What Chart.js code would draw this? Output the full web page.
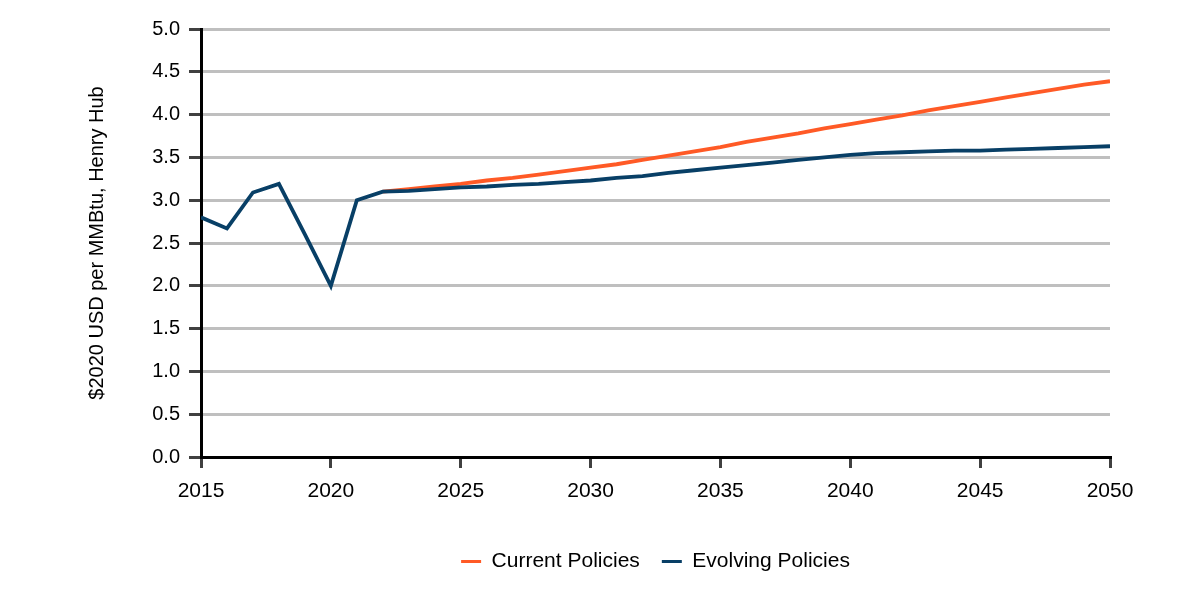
<!DOCTYPE html>
<html>
<head>
<meta charset="utf-8">
<script src="https://cdn.jsdelivr.net/npm/chart.js@4"></script>
<style>
  html, body { margin: 0; padding: 0; background: #fff; }
  #wrap { width: 1200px; height: 600px; }
</style>
</head>
<body>
<div id="wrap"><canvas id="gasChart" width="1200" height="600"></canvas></div>
<script>
const years = [2015, 2016, 2017, 2018, 2019, 2020, 2021, 2022, 2023, 2024, 2025, 2026,
  2027, 2028, 2029, 2030, 2031, 2032, 2033, 2034, 2035, 2036, 2037, 2038, 2039, 2040,
  2041, 2042, 2043, 2044, 2045, 2046, 2047, 2048, 2049, 2050];

// Current Policies starts in 2022
const currentPolicies = [null, null, null, null, null, null, null, 3.10, 3.13, 3.16, 3.19, 3.23,
  3.26, 3.30, 3.34, 3.38, 3.42, 3.47, 3.52, 3.57, 3.62, 3.68, 3.73, 3.78, 3.84, 3.89,
  3.94, 3.99, 4.05, 4.10, 4.15, 4.20, 4.25, 4.30, 4.35, 4.39];

const evolvingPolicies = [2.80, 2.67, 3.09, 3.19, 2.60, 2.00, 3.00, 3.10, 3.11, 3.13, 3.15, 3.16,
  3.18, 3.19, 3.21, 3.23, 3.26, 3.28, 3.32, 3.35, 3.38, 3.41, 3.44, 3.47, 3.50, 3.53,
  3.55, 3.56, 3.57, 3.58, 3.58, 3.59, 3.60, 3.61, 3.62, 3.63];

const seriesNames = ['Current Policies', 'Evolving Policies'];
const yTitle = '$2020 USD per MMBtu, Henry Hub';

const toPoints = vals => years.map((yr, i) => ({ x: yr, y: vals[i] }));

const fontFamily = "'Liberation Sans', Arial, sans-serif";

document.addEventListener("DOMContentLoaded", () => {
  const ctx = document.getElementById('gasChart').getContext('2d');

  new Chart(ctx, {
    type: 'line',
    data: {
      datasets: [{
        label: seriesNames[0],
        data: toPoints(currentPolicies),
        borderColor: '#ff5a26',
        backgroundColor: '#ff5a26',
        borderWidth: 3.8,
        pointRadius: 0,
        tension: 0,
        order: 2
      }, {
        label: seriesNames[1],
        data: toPoints(evolvingPolicies),
        borderColor: '#083f66',
        backgroundColor: '#083f66',
        borderWidth: 3.8,
        pointRadius: 0,
        tension: 0,
        order: 1
      }]
    },
    options: {
      responsive: false,
      animation: false,
      layout: { padding: { left: 80, right: 90, top: 29, bottom: 18 } },
      plugins: {
        tooltip: { enabled: false },
        legend: {
          position: 'bottom',
          fullSize: false, // centre under the plot area
          labels: {
            color: '#000',
            font: { family: fontFamily, size: 21 },
            boxWidth: 20,
            boxHeight: 3,
            padding: 22,
            sort: (a, b) => a.datasetIndex - b.datasetIndex,
            generateLabels: chart => Chart.defaults.plugins.legend.labels.generateLabels(chart)
              .map(l => ({ ...l, lineWidth: 0 }))
          }
        }
      },
      scales: {
        x: {
          type: 'linear',
          min: 2015,
          max: 2050,
          afterFit: s => { s.height = 72; },
          ticks: {
            stepSize: 5,
            color: '#000',
            padding: 11,
            font: { family: fontFamily, size: 21 },
            callback: v => String(v)
          },
          grid: {
            drawOnChartArea: false,
            drawTicks: true,
            tickLength: 11,
            tickColor: '#404040',
            lineWidth: 3
          },
          border: { display: true, color: '#000', width: 3 }
        },
        y: {
          min: 0,
          max: 5,
          afterFit: s => { s.width = 121; },
          ticks: {
            stepSize: 0.5,
            color: '#000',
            padding: 9,
            font: { family: fontFamily, size: 20 },
            callback: v => v.toFixed(1)
          },
          grid: {
            color: '#bfbfbf',
            lineWidth: 3,
            tickLength: 12,
            tickColor: '#404040'
          },
          border: { display: true, color: '#000', width: 3 },
          title: {
            display: true,
            text: yTitle,
            color: '#000',
            font: { family: fontFamily, size: 20 },
            padding: { top: 5, bottom: 0 }
          }
        }
      }
    }
  });
});
</script>
</body>
</html>
